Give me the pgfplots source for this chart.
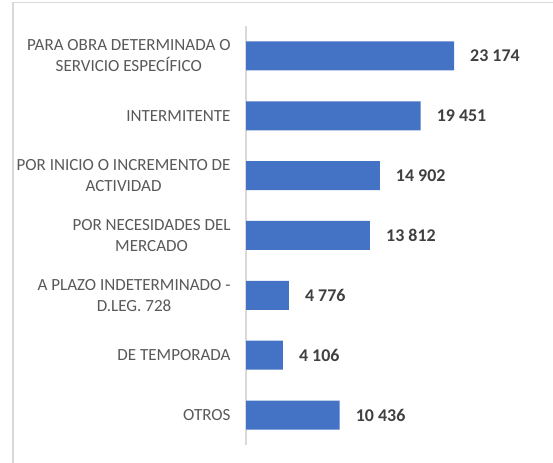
\documentclass[border=0pt]{standalone}
\usepackage{fontspec}
\setmainfont{Carlito}
\usepackage{pgfplots}
\pgfplotsset{compat=1.18}
\definecolor{barblue}{HTML}{4472C4}
\definecolor{cattext}{HTML}{595959}
\definecolor{valtext}{HTML}{404040}
\definecolor{framegray}{HTML}{D9D9D9}
\begin{document}
\begin{tikzpicture}
\useasboundingbox (0,0) rectangle (553bp,463bp);
\fill[white] (0,0) rectangle (553bp,463bp);
\draw[framegray, line width=1.5bp] (13bp,0) -- (13bp,460.5bp) -- (553bp,460.5bp);
\begin{axis}[
  at={(246bp,18bp)}, anchor=south west,
  scale only axis, width=269.3bp, height=419bp,
  xbar, bar width=29bp,
  xmin=0, xmax=30000, ymin=-0.5, ymax=6.5,
  axis x line=none,
  axis y line*=left,
  y axis line style={framegray, line width=1.2bp, -},
  ytick={0,1,2,3,4,5,6},
  yticklabels={{OTROS},{DE TEMPORADA},{A PLAZO INDETERMINADO -\\D.LEG. 728},{POR NECESIDADES DEL\\MERCADO},{POR INICIO O INCREMENTO DE\\ACTIVIDAD},{INTERMITENTE},{PARA OBRA DETERMINADA O\\SERVICIO ESPECÍFICO}},
  ytick style={draw=none},
  yticklabel style={font=\fontsize{17.1}{21}\selectfont, text=cattext, align=center, anchor=east, inner sep=0pt, xshift=-11bp},
  clip=false,
  point meta=x,
  /pgf/number format/1000 sep={\ },
  /pgf/number format/assume math mode=true,
  nodes near coords={\pgfmathprintnumber{\pgfplotspointmeta}},
  nodes near coords style={font=\bfseries\fontsize{18}{21}\selectfont, text=valtext, anchor=west, inner sep=0pt, xshift=16bp},
]
\addplot[fill=barblue, draw=none] coordinates {
  (10436,0)
  (4106,1)
  (4776,2)
  (13812,3)
  (14902,4)
  (19451,5)
  (23174,6)
};
\end{axis}
\end{tikzpicture}
\end{document}
